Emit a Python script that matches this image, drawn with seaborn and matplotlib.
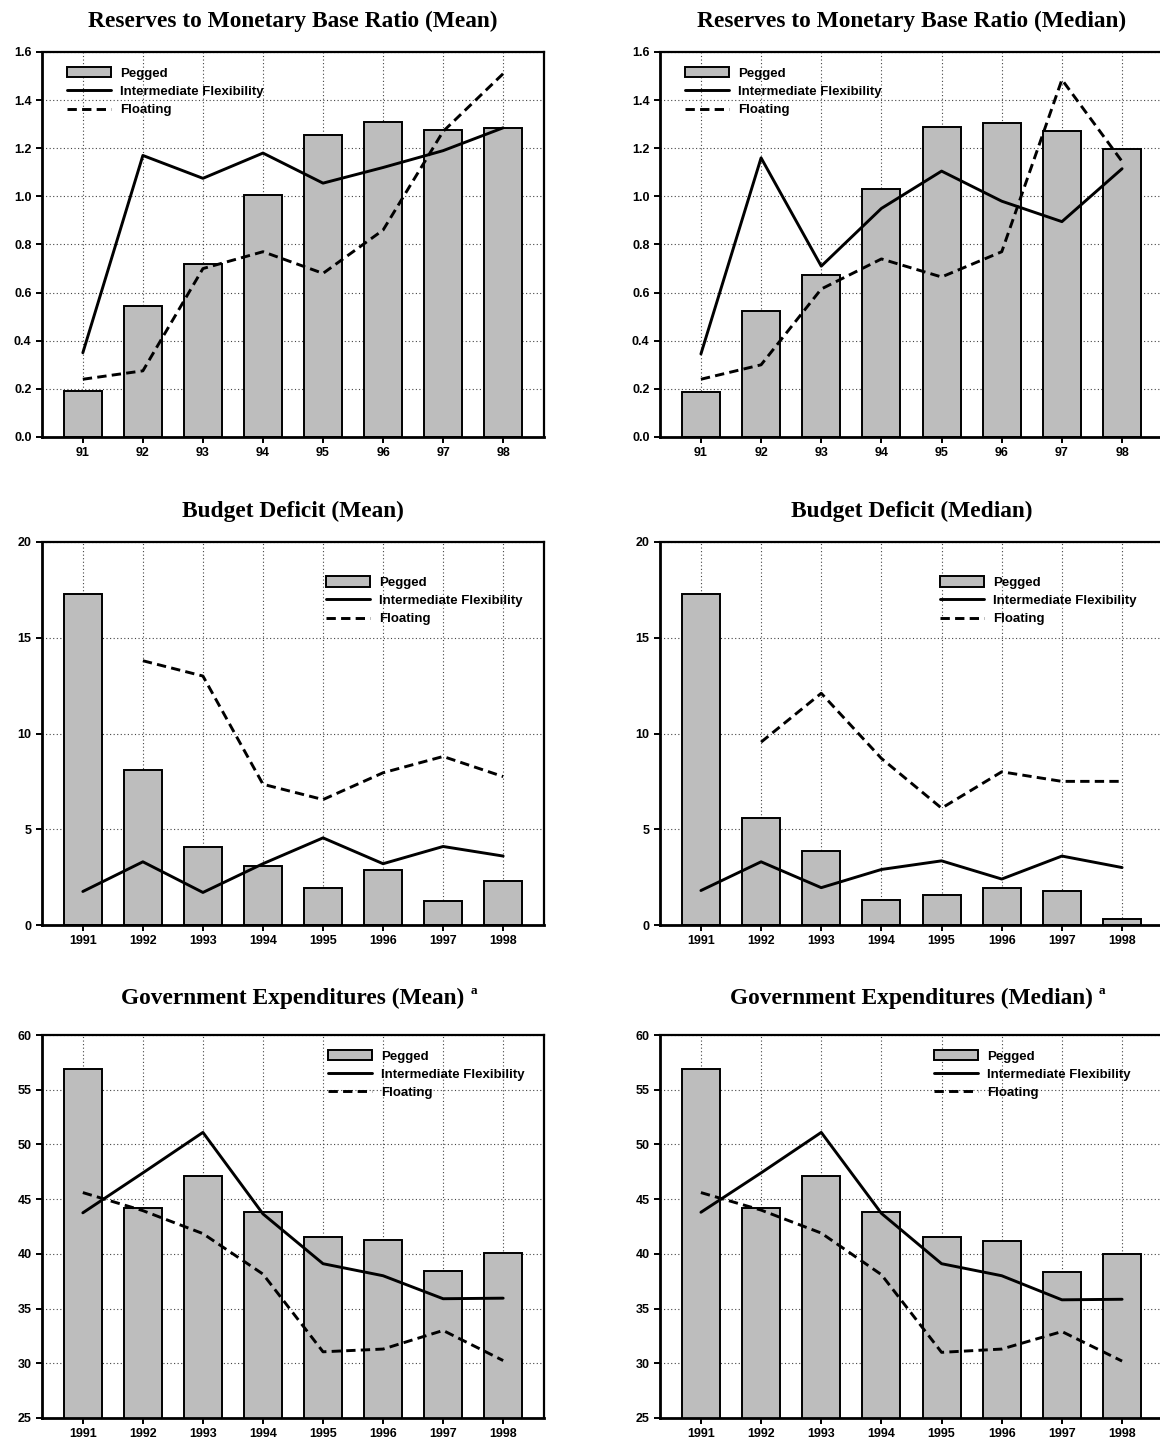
import numpy as np
import pandas as pd
import matplotlib
matplotlib.use("Agg")
import matplotlib.pyplot as plt
import seaborn as sns
from matplotlib.patches import Patch
from matplotlib.lines import Line2D
from matplotlib.ticker import FormatStrFormatter

# ---------------- data ----------------
years_short = ["91", "92", "93", "94", "95", "96", "97", "98"]
years_long = ["1991", "1992", "1993", "1994", "1995", "1996", "1997", "1998"]
regimes = ["Pegged", "Intermediate Flexibility", "Floating"]

res_mean_pegged = [0.19, 0.545, 0.72, 1.005, 1.255, 1.31, 1.275, 1.285]
res_mean_inter = [0.35, 1.17, 1.075, 1.18, 1.055, 1.12, 1.19, 1.285]
res_mean_float = [0.24, 0.275, 0.70, 0.77, 0.68, 0.86, 1.27, 1.51]

res_med_pegged = [0.185, 0.525, 0.675, 1.03, 1.29, 1.305, 1.27, 1.195]
res_med_inter = [0.345, 1.16, 0.71, 0.95, 1.105, 0.98, 0.895, 1.115]
res_med_float = [0.24, 0.30, 0.615, 0.74, 0.665, 0.77, 1.485, 1.145]

bud_mean_pegged = [17.3, 8.1, 4.05, 3.1, 1.95, 2.85, 1.25, 2.3]
bud_mean_inter = [1.75, 3.3, 1.7, 3.2, 4.55, 3.2, 4.1, 3.6]
bud_mean_float = [np.nan, 13.8, 13.0, 7.35, 6.55, 7.95, 8.8, 7.75]

bud_med_pegged = [17.3, 5.6, 3.85, 1.3, 1.55, 1.95, 1.8, 0.3]
bud_med_inter = [1.8, 3.3, 1.95, 2.9, 3.35, 2.4, 3.6, 3.0]
bud_med_float = [np.nan, 9.55, 12.1, 8.7, 6.1, 8.0, 7.5, 7.5]

gov_mean_pegged = [56.9, 44.2, 47.15, 43.85, 41.55, 41.3, 38.4, 40.1]
gov_mean_inter = [43.75, 47.4, 51.1, 43.65, 39.1, 38.0, 35.9, 35.95]
gov_mean_float = [45.6, 43.95, 41.85, 38.15, 31.05, 31.3, 33.0, 30.25]

gov_med_pegged = [56.9, 44.2, 47.15, 43.8, 41.5, 41.2, 38.35, 40.0]
gov_med_inter = [43.8, 47.4, 51.1, 43.7, 39.1, 38.0, 35.8, 35.85]
gov_med_float = [45.6, 44.0, 41.9, 38.1, 31.0, 31.3, 32.9, 30.2]

titles = [
    "Reserves to Monetary Base Ratio (Mean)",
    "Reserves to Monetary Base Ratio (Median)",
    "Budget Deficit (Mean)",
    "Budget Deficit (Median)",
    "Government Expenditures (Mean)",
    "Government Expenditures (Median)",
]

# ---------------- style ----------------
sns.set_theme(style="ticks")
plt.rcParams['font.family'] = ['Liberation Sans', 'DejaVu Sans']
plt.rcParams['font.weight'] = 'bold'
plt.rcParams['text.color'] = 'black'
plt.rcParams['axes.titlecolor'] = 'black'
plt.rcParams['xtick.color'] = 'black'
plt.rcParams['ytick.color'] = 'black'

BAR = "#bdbdbd"
DASH = (0, (3.2, 1.8))
LW = 2.1

fig = plt.figure(figsize=(11.6, 14.44), dpi=100)

W = 1160.0
H = 1444.0
def axes_at(x0, x1, y0, y1):
    return fig.add_axes([x0 / W, 1 - y1 / H, (x1 - x0) / W, (y1 - y0) / H])

rows = [(52, 437), (542, 925), (1035, 1418)]
cols = [(42, 544), (660, 1163)]


def panel(ax, cats, pegged, inter, floating, ylim, yticks, fmt, title,
          leg_xy, sup=False, title_pad=18):
    bars = pd.DataFrame({"year": cats, "value": pegged})
    sns.barplot(data=bars, x="year", y="value", order=cats, color=BAR,
                saturation=1, edgecolor="black", linewidth=1.4, width=0.63,
                ax=ax, zorder=2)
    lines = pd.DataFrame({
        "year": list(cats) * 2,
        "value": list(inter) + list(floating),
        "regime": [regimes[1]] * len(cats) + [regimes[2]] * len(cats),
    })
    sns.pointplot(data=lines, x="year", y="value", hue="regime", order=cats,
                  hue_order=regimes[1:], palette=["black", "black"],
                  markers=["", ""], linestyles=["-", DASH], errorbar=None,
                  linewidth=LW, legend=False, ax=ax)
    for ln in ax.lines:
        ln.set_zorder(3)
    ax.set_xlim(-0.68, len(cats) - 1 + 0.68)
    ax.set_ylim(*ylim)
    ax.set_yticks(yticks)
    ax.yaxis.set_major_formatter(FormatStrFormatter(fmt))
    ax.set_xlabel("")
    ax.set_ylabel("")
    ax.set_axisbelow(True)
    ax.grid(True, linestyle=(0, (1, 2.2)), color="#444444", linewidth=0.8)
    for s in ["left", "bottom"]:
        ax.spines[s].set_linewidth(2.0)
        ax.spines[s].set_color("black")
    for s in ["top", "right"]:
        ax.spines[s].set_visible(True)
        ax.spines[s].set_linewidth(1.6)
        ax.spines[s].set_color("black")
    ax.tick_params(axis="both", direction="out", length=4.5, width=1.4,
                   colors="black", labelsize=9, pad=3)
    for lbl in ax.get_xticklabels() + ax.get_yticklabels():
        lbl.set_fontweight("bold")
    t = ax.set_title(title, fontsize=16.8, fontweight="bold", color="black",
                     family=["Liberation Serif", "DejaVu Serif"], pad=title_pad)
    if sup:
        ax.annotate("a", xy=(1, 1), xycoords=t, xytext=(4, 2.5),
                    textcoords="offset points", fontsize=9.5, fontweight="bold",
                    family=["Liberation Serif", "DejaVu Serif"], va="top",
                    ha="left", color="black")
    handles = [
        Patch(facecolor=BAR, edgecolor="black", linewidth=1.4),
        Line2D([], [], color="black", lw=LW),
        Line2D([], [], color="black", lw=LW, ls=DASH),
    ]
    ax.legend(handles, regimes, loc="upper left", bbox_to_anchor=leg_xy,
              frameon=False, handlelength=3.3, handleheight=0.8,
              handletextpad=0.7, labelspacing=0.42, borderpad=0,
              borderaxespad=0,
              prop={"family": ["Liberation Sans Narrow", "Liberation Sans",
                               "DejaVu Sans"],
                    "weight": "bold", "size": 9.5})
    return ax


ax1 = axes_at(*cols[0], *rows[0])
panel(ax1, years_short, res_mean_pegged, res_mean_inter, res_mean_float,
      (0, 1.6), np.arange(0, 1.61, 0.2), "%.1f", titles[0], (0.05, 0.96))
ax2 = axes_at(*cols[1], *rows[0])
panel(ax2, years_short, res_med_pegged, res_med_inter, res_med_float,
      (0, 1.6), np.arange(0, 1.61, 0.2), "%.1f", titles[1], (0.05, 0.96))

ax3 = axes_at(*cols[0], *rows[1])
panel(ax3, years_long, bud_mean_pegged, bud_mean_inter, bud_mean_float,
      (0, 20), [0, 5, 10, 15, 20], "%d", titles[2], (0.566, 0.91))
ax4 = axes_at(*cols[1], *rows[1])
panel(ax4, years_long, bud_med_pegged, bud_med_inter, bud_med_float,
      (0, 20), [0, 5, 10, 15, 20], "%d", titles[3], (0.557, 0.91))

ax5 = axes_at(*cols[0], *rows[2])
panel(ax5, years_long, gov_mean_pegged, gov_mean_inter, gov_mean_float,
      (25, 60), [25, 30, 35, 40, 45, 50, 55, 60], "%d", titles[4],
      (0.57, 0.96), sup=True, title_pad=22)
ax6 = axes_at(*cols[1], *rows[2])
panel(ax6, years_long, gov_med_pegged, gov_med_inter, gov_med_float,
      (25, 60), [25, 30, 35, 40, 45, 50, 55, 60], "%d", titles[5],
      (0.545, 0.96), sup=True, title_pad=22)

fig.savefig("out.png", dpi=100, facecolor="white")
